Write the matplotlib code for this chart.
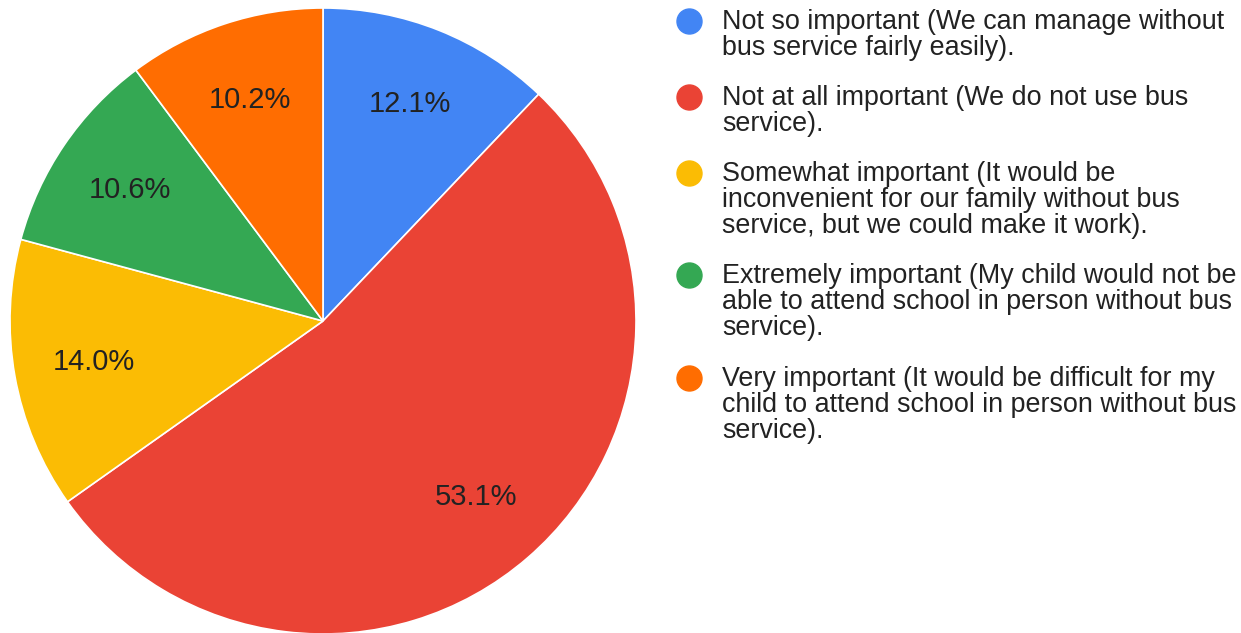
import matplotlib.pyplot as plt

plt.rcParams["font.family"] = ["Liberation Sans", "DejaVu Sans"]

labels = [
    "Not so important (We can manage without\nbus service fairly easily).",
    "Not at all important (We do not use bus\nservice).",
    "Somewhat important (It would be\ninconvenient for our family without bus\nservice, but we could make it work).",
    "Extremely important (My child would not be\nable to attend school in person without bus\nservice).",
    "Very important (It would be difficult for my\nchild to attend school in person without bus\nservice).",
]
shares = [12.1, 53.1, 14.0, 10.6, 10.2]
colors = ["#4285F4", "#EA4335", "#FBBC04", "#34A853", "#FF6D01"]

W, H = 1241, 633
fig = plt.figure(figsize=(W / 100, H / 100), dpi=100)

# pie centre (323, 321) px from top-left, radius 313 px
cx, cy, r = 323, 321, 313
ax = fig.add_axes([(cx - r) / W, (H - cy - r) / H, 2 * r / W, 2 * r / H])
ax.pie(
    shares,
    colors=colors,
    startangle=90,
    counterclock=False,
    autopct="%1.1f%%",
    pctdistance=0.745,
    wedgeprops={"edgecolor": "white", "linewidth": 1.2},
    textprops={"fontsize": 21, "color": "#222222"},
)
ax.set_xlim(-1, 1)
ax.set_ylim(-1, 1)
ax.set_aspect("equal")
ax.axis("off")

# legend drawn by hand: circle + wrapped text, first line next to the marker
marker_y = [21, 97, 173, 275, 378]
for lab, col, my in zip(labels, colors, marker_y):
    fig.lines.append(plt.Line2D([689 / W], [1 - my / H], marker="o", markersize=18,
                                color=col, transform=fig.transFigure, linestyle="none"))
    fig.text(722 / W, 1 - (my - 12) / H, lab, fontsize=19.4, color="#222222",
             va="top", ha="left", linespacing=1.0)

fig.savefig("out.png", dpi=100)
